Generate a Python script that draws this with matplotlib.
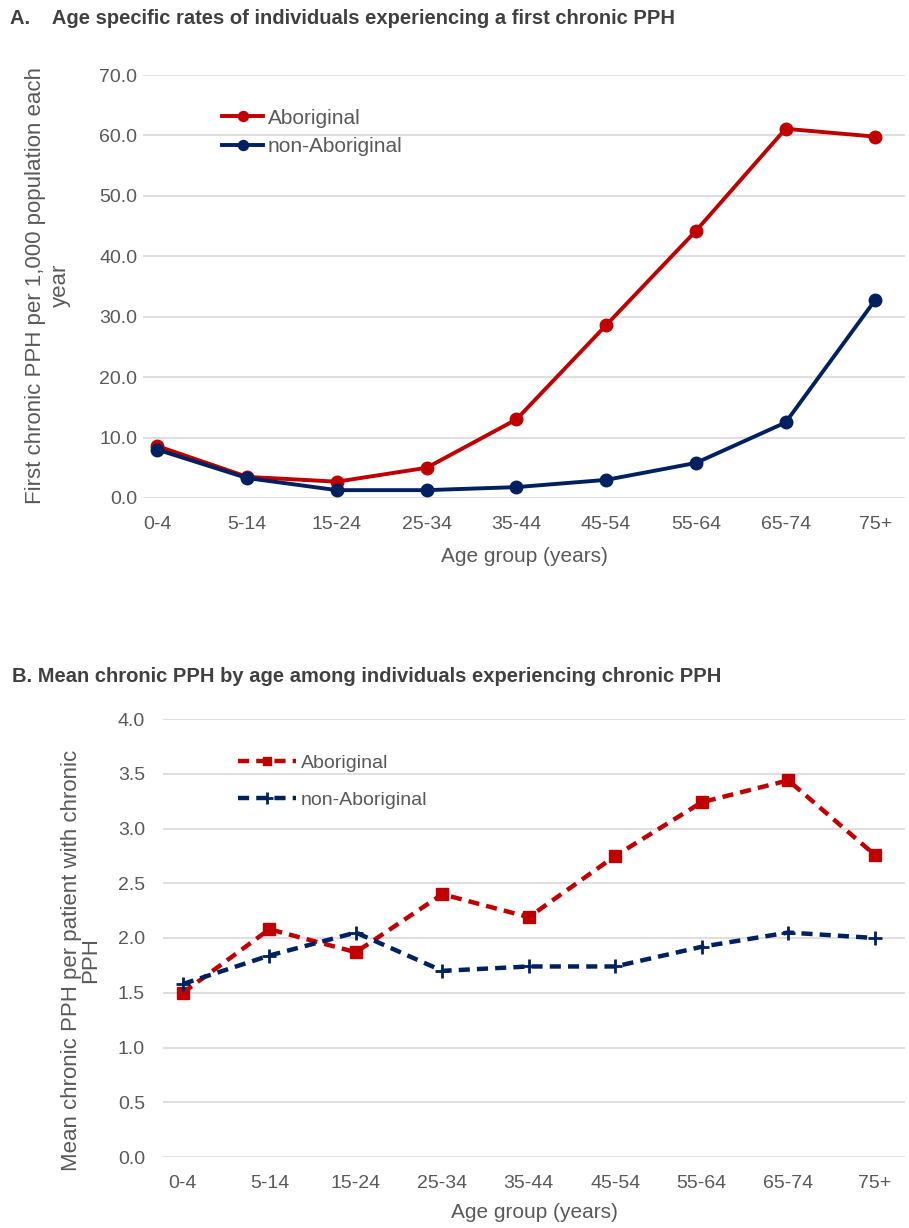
import matplotlib
matplotlib.use("Agg")
import matplotlib.pyplot as plt

age_groups = ["0-4", "5-14", "15-24", "25-34", "35-44", "45-54", "55-64", "65-74", "75+"]

rate_aboriginal = [8.6, 3.5, 2.7, 5.0, 13.0, 28.6, 44.2, 61.1, 59.8]
rate_non_aboriginal = [8.0, 3.3, 1.3, 1.3, 1.8, 3.0, 5.8, 12.5, 32.8]

mean_aboriginal = [1.50, 2.08, 1.87, 2.40, 2.19, 2.75, 3.24, 3.44, 2.76]
mean_non_aboriginal = [1.58, 1.84, 2.05, 1.70, 1.74, 1.74, 1.92, 2.05, 2.00]

RED = "#C00000"
NAVY = "#002060"
GRID = "#D9D9D9"
TXT = "#595959"
TITLE = "#404040"

W, H = 909, 1228
plt.rcParams["font.family"] = ["Liberation Sans", "DejaVu Sans"]

fig = plt.figure(figsize=(W / 100, H / 100), dpi=100)


def px_axes(left, right, top, bottom):
    return fig.add_axes([left / W, (H - bottom) / H, (right - left) / W, (bottom - top) / H])


def style(ax, ymax, step, xlim, ypad):
    ax.set_xlim(*xlim)
    ax.set_ylim(0, ymax)
    ticks = [i * step for i in range(int(round(ymax / step)) + 1)]
    ax.set_yticks(ticks)
    ax.set_yticklabels([f"{t:.1f}" for t in ticks])
    ax.set_xticks(range(len(age_groups)))
    ax.set_xticklabels(age_groups)
    for s in ax.spines.values():
        s.set_visible(False)
    ax.tick_params(length=0, colors=TXT, labelsize=14)
    ax.tick_params(axis="x", pad=13)
    ax.tick_params(axis="y", pad=ypad)
    ax.grid(axis="y", color=GRID, linewidth=1.2)
    ax.set_axisbelow(True)


x = range(len(age_groups))

# Panel A
ax1 = px_axes(143, 905, 75, 498)
ax1.plot(x, rate_aboriginal, color=RED, lw=2.8, marker="o", ms=9, label="Aboriginal")
ax1.plot(x, rate_non_aboriginal, color=NAVY, lw=2.8, marker="o", ms=9, label="non-Aboriginal")
style(ax1, 70, 10, (-0.16, 8.33), 4)
ax1.set_xlabel("Age group (years)", fontsize=15, color=TXT, labelpad=10)
ax1.legend(loc="upper left", bbox_to_anchor=(203 / W, (H - 90) / H), bbox_transform=fig.transFigure,
           frameon=False, fontsize=15, labelcolor=TXT, handlelength=2.0, labelspacing=0.45,
           handletextpad=0.2, markerscale=0.8)

fig.text(10 / W, (H - 18) / H, "A.    Age specific rates of individuals experiencing a first chronic PPH",
         fontsize=14.5, fontweight="bold", color=TITLE, va="center", ha="left",
         family=["Liberation Sans Narrow", "Liberation Sans", "DejaVu Sans"])
fig.text(48 / W, (H - 285) / H, "First chronic PPH per 1,000 population each\nyear",
         rotation=90, fontsize=16, color=TXT, va="center", ha="center", linespacing=1.2)

# Panel B
ax2 = px_axes(163, 905, 719, 1157)
ax2.plot(x, mean_aboriginal, color=RED, lw=3.2, ls=(0, (2.5, 1.6)), marker="s", ms=8,
         label="Aboriginal")
ax2.plot(x, mean_non_aboriginal, color=NAVY, lw=3.2, ls=(0, (2.5, 1.6)), marker="+", ms=10,
         mew=2, label="non-Aboriginal")
style(ax2, 4.0, 0.5, (-0.23, 8.35), 13)
ax2.set_xlabel("Age group (years)", fontsize=15, color=TXT, labelpad=8)
ax2.legend(loc="upper left", bbox_to_anchor=(220 / W, (H - 737) / H), bbox_transform=fig.transFigure,
           frameon=False, fontsize=14, labelcolor=TXT, handlelength=3.0, labelspacing=1.0,
           handletextpad=0.25, markerscale=0.8)

fig.text(12 / W, (H - 677) / H, "B. Mean chronic PPH by age among individuals experiencing chronic PPH",
         fontsize=14.5, fontweight="bold", color=TITLE, va="center", ha="left",
         family=["Liberation Sans Narrow", "Liberation Sans", "DejaVu Sans"])
fig.text(81 / W, (H - 960) / H, "Mean chronic PPH per patient with chronic\nPPH",
         rotation=90, fontsize=16, color=TXT, va="center", ha="center", linespacing=0.9)

fig.savefig("out.png", dpi=100)
